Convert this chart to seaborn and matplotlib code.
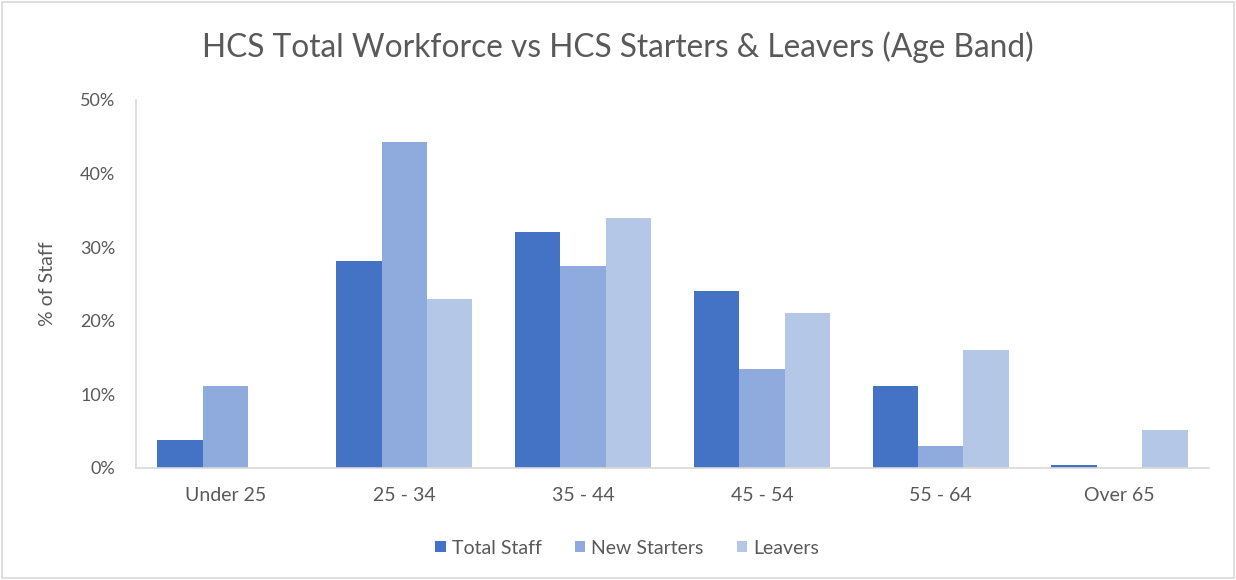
import matplotlib
matplotlib.use("Agg")
import matplotlib.pyplot as plt
from matplotlib.ticker import PercentFormatter
from matplotlib.patches import Rectangle
import seaborn as sns
import pandas as pd

age_bands = ["Under 25", "25 - 34", "35 - 44", "45 - 54", "55 - 64", "Over 65"]
total_staff = [3.8, 28.1, 32.0, 24.1, 11.1, 0.45]
new_starters = [11.1, 44.3, 27.5, 13.5, 3.0, 0.0]
leavers = [0.0, 22.9, 34.0, 21.1, 16.0, 5.1]
series_names = ["Total Staff", "New Starters", "Leavers"]
series_colors = ["#4472C4", "#8FAADC", "#B4C7E7"]

rows = []
for name, vals in zip(series_names, [total_staff, new_starters, leavers]):
    for band, v in zip(age_bands, vals):
        rows.append({"Age Band": band, "Series": name, "Value": v})
df = pd.DataFrame(rows)

sns.set_theme(style="white")
plt.rcParams["font.family"] = ["Lato", "DejaVu Sans"]

text_color = "#595959"
W, H = 1236, 580
fig = plt.figure(figsize=(W / 100, H / 100), dpi=100)
ax_left, ax_right, ax_top, ax_bottom = 136, 1209, 100, 468
ax = fig.add_axes([ax_left / W, 1 - ax_bottom / H,
                   (ax_right - ax_left) / W, (ax_bottom - ax_top) / H])

sns.barplot(data=df, x="Age Band", y="Value", hue="Series", order=age_bands,
            hue_order=series_names, palette=series_colors, width=0.763,
            saturation=1, linewidth=0, ax=ax, legend=True)

ax.set_ylim(0, 50)
ax.set_xlim(-0.5, len(age_bands) - 0.5)
ax.set_yticks([0, 10, 20, 30, 40, 50])
ax.yaxis.set_major_formatter(PercentFormatter(decimals=0))
ax.tick_params(axis="both", colors=text_color, length=0)
ax.tick_params(axis="x", labelsize=14, pad=14)
ax.tick_params(axis="y", labelsize=13, pad=15)
for lbl in ax.get_xticklabels() + ax.get_yticklabels():
    lbl.set_color(text_color)

for side in ["top", "right"]:
    ax.spines[side].set_visible(False)
for side in ["bottom", "left"]:
    ax.spines[side].set_color("#D9D9D9")
    ax.spines[side].set_linewidth(1.2)

ax.set_xlabel("")
ax.set_ylabel("% of Staff", fontsize=14, color=text_color)
ax.yaxis.set_label_coords((56 - ax_left) / (ax_right - ax_left), 0.5)

fig.text(0.5, 1 - 47 / H, "HCS Total Workforce vs HCS Starters & Leavers (Age Band)",
         ha="center", va="center", fontsize=22.8, color=text_color)

handles, labels = ax.get_legend_handles_labels()
ax.get_legend().remove()
fig.legend(handles, labels, loc="center", bbox_to_anchor=(627 / W, 1 - 548 / H),
           ncol=3, frameon=False, fontsize=14, handlelength=0.55, handleheight=0.55,
           handletextpad=0.3, columnspacing=1.7, labelcolor=text_color)

fig.patches.append(Rectangle((0.002, 0.003), 0.996, 0.994, transform=fig.transFigure,
                             fill=False, edgecolor="#D9D9D9", linewidth=1.2))

fig.savefig("out.png", dpi=100, facecolor="white")
